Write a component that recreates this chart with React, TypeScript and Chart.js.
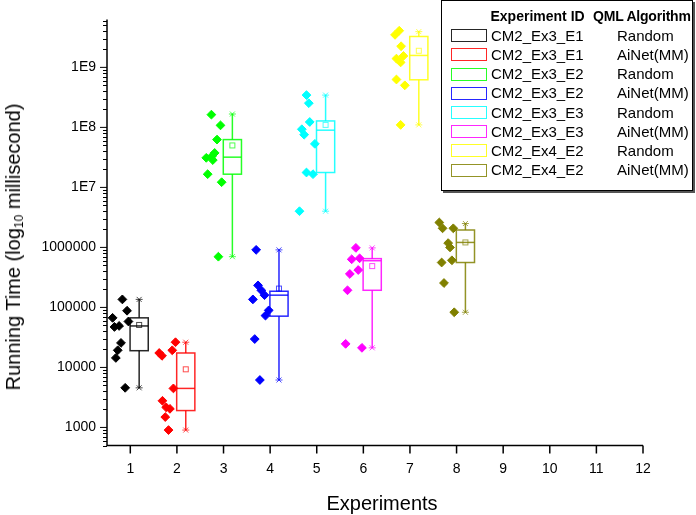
import React, { useEffect, useRef } from "react";
import { Chart, registerables } from "chart.js";

Chart.register(...registerables);

// ---------------- data ----------------
const experimentIds = ["CM2_Ex3_E1", "CM2_Ex3_E1", "CM2_Ex3_E2", "CM2_Ex3_E2", "CM2_Ex3_E3", "CM2_Ex3_E3", "CM2_Ex4_E2", "CM2_Ex4_E2"];
const algorithms = ["Random", "AiNet(MM)", "Random", "AiNet(MM)", "Random", "AiNet(MM)", "Random", "AiNet(MM)"];
const experimentNumbers = [1, 2, 3, 4, 5, 6, 7, 8];

const xTickValues = [1, 2, 3, 4, 5, 6, 7, 8, 9, 10, 11, 12];
const yTickValues = [1e3, 1e4, 1e5, 1e6, 1e7, 1e8, 1e9];
const yTickLabels = ["1000", "10000", "100000", "1000000", "1E7", "1E8", "1E9"];

// raw running times (ms) and horizontal jitter of each point
const valuesExp1 = [136000, 88000, 67000, 47300, 49100, 58300, 25600, 19300, 14400, 4570];
const jitterExp1 = [-0.17, -0.07, -0.38, -0.34, -0.24, -0.04, -0.2, -0.27, -0.31, -0.11];
const valuesExp2 = [26300, 19300, 17400, 15600, 4470, 2780, 2160, 2040, 1490, 904];
const jitterExp2 = [-0.03, -0.1, -0.38, -0.32, -0.075, -0.31, -0.23, -0.15, -0.25, -0.18];
const valuesExp3 = [1.63e8, 1.08e8, 6.26e7, 3.11e7, 3.31e7, 3.75e7, 2.85e7, 1.66e7, 1.22e7, 7.0e5];
const jitterExp3 = [-0.26, -0.065, -0.14, -0.37, -0.25, -0.19, -0.23, -0.34, -0.04, -0.11];
const valuesExp4 = [9.1e5, 2.33e5, 1.93e5, 1.6e5, 1.36e5, 8.93e4, 7.3e4, 2.97e4, 6170];
const jitterExp4 = [-0.3, -0.26, -0.19, -0.12, -0.37, -0.03, -0.1, -0.33, -0.22];
const valuesExp5 = [3.45e8, 2.53e8, 1.23e8, 9.31e7, 7.55e7, 5.31e7, 1.77e7, 1.66e7, 4.01e6];
const jitterExp5 = [-0.22, -0.17, -0.15, -0.32, -0.27, -0.04, -0.22, -0.08, -0.37];
const valuesExp6 = [9.82e5, 6.34e5, 6.58e5, 3.61e5, 4.2e5, 1.93e5, 2.47e4, 2.12e4];
const jitterExp6 = [-0.16, -0.25, -0.08, -0.29, -0.11, -0.34, -0.38, -0.03];
const valuesExp7 = [4.08e9, 3.48e9, 2.25e9, 1.4e9, 1.55e9, 1.21e9, 6.28e8, 5.02e8, 1.1e8];
const jitterExp7 = [-0.23, -0.32, -0.19, -0.29, -0.14, -0.2, -0.29, -0.11, -0.2];
const valuesExp8 = [2.6e6, 2.08e6, 2.08e6, 1.18e6, 1.0e6, 5.6e5, 6.1e5, 2.55e5, 8.3e4];
const jitterExp8 = [-0.37, -0.3, -0.07, -0.18, -0.14, -0.32, -0.1, -0.27, -0.05];

// box statistics per experiment
const boxQ1 = [19000, 1910, 1.66e7, 7.15e4, 1.77e7, 1.93e5, 6.21e8, 5.6e5];
const boxMedian = [49100, 4470, 3.19e7, 1.6e5, 8.98e7, 6.0e5, 1.58e9, 1.21e6];
const boxQ3 = [67000, 17400, 6.26e7, 1.86e5, 1.28e8, 6.5e5, 3.27e9, 1.95e6];
const boxMean = [51000, 9300, 5.0e7, 2.06e5, 1.1e8, 4.88e5, 1.89e9, 1.21e6];
const whiskerLow = [4570, 904, 7.0e5, 6170, 4.01e6, 2.12e4, 1.1e8, 8.3e4];
const whiskerHigh = [136000, 26300, 1.67e8, 9.1e5, 3.45e8, 9.82e5, 3.94e9, 2.5e6];

const allValues = [valuesExp1, valuesExp2, valuesExp3, valuesExp4, valuesExp5, valuesExp6, valuesExp7, valuesExp8];
const allJitter = [jitterExp1, jitterExp2, jitterExp3, jitterExp4, jitterExp5, jitterExp6, jitterExp7, jitterExp8];

// ---------------- styles ----------------
const seriesColors = ["#000000", "#FF0000", "#00FF00", "#0000FF", "#00FFFF", "#FF00FF", "#FFFF00", "#808000"];
const FONT = "'Liberation Sans', Arial, Helvetica, sans-serif";
const BOX_OFFSET = 0.19;
const BOX_WIDTH = 0.39;

const boxPlugin = {
  id: "boxPlots",
  afterDatasetsDraw(chart: any) {
    const { ctx } = chart;
    const xs = chart.scales.x;
    const ys = chart.scales.y;
    ctx.save();
    experimentNumbers.forEach((e, i) => {
      const color = seriesColors[i];
      const cx = xs.getPixelForValue(e + BOX_OFFSET);
      const x0 = xs.getPixelForValue(e + BOX_OFFSET - BOX_WIDTH / 2);
      const x1 = xs.getPixelForValue(e + BOX_OFFSET + BOX_WIDTH / 2);
      const yq1 = ys.getPixelForValue(boxQ1[i]);
      const yq3 = ys.getPixelForValue(boxQ3[i]);
      const ymed = ys.getPixelForValue(boxMedian[i]);
      const ymean = ys.getPixelForValue(boxMean[i]);
      const ylo = ys.getPixelForValue(whiskerLow[i]);
      const yhi = ys.getPixelForValue(whiskerHigh[i]);
      ctx.strokeStyle = color;
      ctx.lineWidth = 1.5;
      ctx.globalAlpha = 0.85;
      ctx.beginPath();
      ctx.moveTo(cx, yq3);
      ctx.lineTo(cx, yhi);
      ctx.moveTo(cx, yq1);
      ctx.lineTo(cx, ylo);
      ctx.stroke();
      ctx.strokeRect(x0, yq3, x1 - x0, yq1 - yq3);
      ctx.beginPath();
      ctx.moveTo(x0, ymed);
      ctx.lineTo(x1, ymed);
      ctx.stroke();
      ctx.lineWidth = 1;
      ctx.globalAlpha = 0.7;
      ctx.strokeRect(cx - 2.5, ymean - 2.5, 5, 5);
      [ylo, yhi].forEach((yy) => {
        ctx.beginPath();
        ctx.moveTo(cx - 3.5, yy);
        ctx.lineTo(cx + 3.5, yy);
        ctx.moveTo(cx - 2.5, yy - 2.5);
        ctx.lineTo(cx + 2.5, yy + 2.5);
        ctx.moveTo(cx - 2.5, yy + 2.5);
        ctx.lineTo(cx + 2.5, yy - 2.5);
        ctx.stroke();
      });
      ctx.globalAlpha = 1;
    });
    ctx.restore();
  },
};

const axesPlugin = {
  id: "originAxes",
  afterDraw(chart: any) {
    const { ctx, chartArea } = chart;
    const xs = chart.scales.x;
    const ys = chart.scales.y;
    const { left, right, top, bottom } = chartArea;
    ctx.save();
    ctx.strokeStyle = "#000";
    ctx.lineWidth = 1.5;
    ctx.beginPath();
    ctx.moveTo(left, top);
    ctx.lineTo(left, bottom + 0.75);
    ctx.moveTo(left - 0.75, bottom);
    ctx.lineTo(right, bottom);
    ctx.stroke();
    ctx.lineWidth = 1;
    ctx.beginPath();
    yTickValues.forEach((v) => {
      const y = ys.getPixelForValue(v);
      ctx.moveTo(left - 7, y);
      ctx.lineTo(left, y);
    });
    for (let d = 2; d <= 9; d++) {
      for (let m = 2; m <= 9; m++) {
        const v = m * Math.pow(10, d);
        if (v < ys.min || v > ys.max) continue;
        const y = Math.round(ys.getPixelForValue(v)) + 0.5;
        ctx.moveTo(left - 4, y);
        ctx.lineTo(left, y);
      }
    }
    ctx.stroke();
    ctx.lineWidth = 1.5;
    ctx.beginPath();
    xTickValues.forEach((v) => {
      const x = xs.getPixelForValue(v);
      ctx.moveTo(x, bottom);
      ctx.lineTo(x, bottom + 8);
    });
    ctx.stroke();
    ctx.restore();
  },
};

export default function App() {
  const canvasRef = useRef<HTMLCanvasElement | null>(null);

  useEffect(() => {
    const canvas = canvasRef.current;
    if (!canvas) return;
    const datasets = allValues.map((vals, i) => ({
      label: experimentIds[i] + " " + algorithms[i],
      data: vals.map((v, k) => ({ x: experimentNumbers[i] + allJitter[i][k], y: v })),
      backgroundColor: seriesColors[i],
      borderColor: seriesColors[i],
      pointStyle: "rectRot",
      pointRadius: 4.4,
      borderWidth: 1,
      showLine: false,
    }));
    const chart = new Chart(canvas, {
      type: "scatter",
      data: { datasets },
      options: {
        responsive: false,
        animation: false,
        layout: { padding: { top: 9.5, right: 53, left: 0, bottom: 0 } },
        plugins: { legend: { display: false }, tooltip: { enabled: false } },
        scales: {
          x: {
            type: "linear",
            min: 0.5,
            max: 12,
            afterBuildTicks: (s: any) => {
              s.ticks = xTickValues.map((v) => ({ value: v }));
            },
            afterFit: (s: any) => {
              s.height = 69.5;
            },
            grid: { display: false, drawTicks: false },
            border: { display: false },
            ticks: {
              autoSkip: false,
              maxRotation: 0,
              padding: 15,
              color: "#000",
              font: { family: FONT, size: 14 },
              callback: (v: any) => String(v),
            },
          },
          y: {
            type: "logarithmic",
            min: 500,
            max: 6.3e9,
            afterBuildTicks: (s: any) => {
              s.ticks = yTickValues.map((v) => ({ value: v }));
            },
            afterFit: (s: any) => {
              s.width = 107;
            },
            grid: { display: false, drawTicks: false },
            border: { display: false },
            ticks: {
              autoSkip: false,
              padding: 11,
              color: "#000",
              font: { family: FONT, size: 14 },
              callback: (v: any) => {
                const idx = yTickValues.findIndex((t) => Math.abs(Math.log10(t) - Math.log10(Number(v))) < 1e-6);
                return idx >= 0 ? yTickLabels[idx] : "";
              },
            },
          },
        },
      },
      plugins: [boxPlugin, axesPlugin],
    } as any);
    return () => chart.destroy();
  }, []);

  const rowTop = (k: number) => 34.7 + k * 19.2;

  return (
    <div style={{ position: "absolute", left: 0, top: 0, width: 696, height: 515, background: "#fff", fontFamily: FONT }}>
      <canvas ref={canvasRef} width={696} height={515} style={{ position: "absolute", left: 0, top: 0 }} />
      <div
        style={{
          position: "absolute",
          left: 13,
          top: 247,
          transform: "translate(-50%, -50%) rotate(-90deg)",
          whiteSpace: "nowrap",
          fontSize: 20,
          lineHeight: "24px",
          color: "#000",
        }}
      >
        Running Time (log<sub style={{ fontSize: 12, verticalAlign: "-3px", lineHeight: 0 }}>10</sub> millisecond)
      </div>
      <div
        style={{
          position: "absolute",
          left: 382,
          top: 503,
          transform: "translate(-50%, -50%)",
          whiteSpace: "nowrap",
          fontSize: 20,
          lineHeight: "24px",
          color: "#000",
        }}
      >
        Experiments
      </div>
      <div
        style={{
          position: "absolute",
          left: 441,
          top: 0,
          width: 252,
          height: 191,
          border: "1px solid #000",
          boxShadow: "2px 2px 0 #555",
          background: "#fff",
          boxSizing: "border-box",
        }}
      >
        <div style={{ position: "absolute", left: 48.5, top: 15.3, transform: "translateY(-50%)", fontSize: 14, fontWeight: "bold", whiteSpace: "nowrap", lineHeight: "16px" }}>
          Experiment ID
        </div>
        <div style={{ position: "absolute", left: 151, top: 15.3, transform: "translateY(-50%)", fontSize: 14, fontWeight: "bold", whiteSpace: "nowrap", lineHeight: "16px", letterSpacing: "-0.2px" }}>
          QML Algorithm
        </div>
        {experimentIds.map((id, k) => (
          <React.Fragment key={k}>
            <div
              style={{
                position: "absolute",
                left: 8.5,
                top: rowTop(k) - 6.5,
                width: 36,
                height: 13,
                border: `1.5px solid ${seriesColors[k]}`,
                boxSizing: "border-box",
                opacity: 0.85,
              }}
            />
            <div style={{ position: "absolute", left: 49, top: rowTop(k), transform: "translateY(-50%)", fontSize: 15, whiteSpace: "nowrap", lineHeight: "18px" }}>
              {id}
            </div>
            <div style={{ position: "absolute", left: 175, top: rowTop(k), transform: "translateY(-50%)", fontSize: 15, whiteSpace: "nowrap", lineHeight: "18px" }}>
              {algorithms[k]}
            </div>
          </React.Fragment>
        ))}
      </div>
    </div>
  );
}
